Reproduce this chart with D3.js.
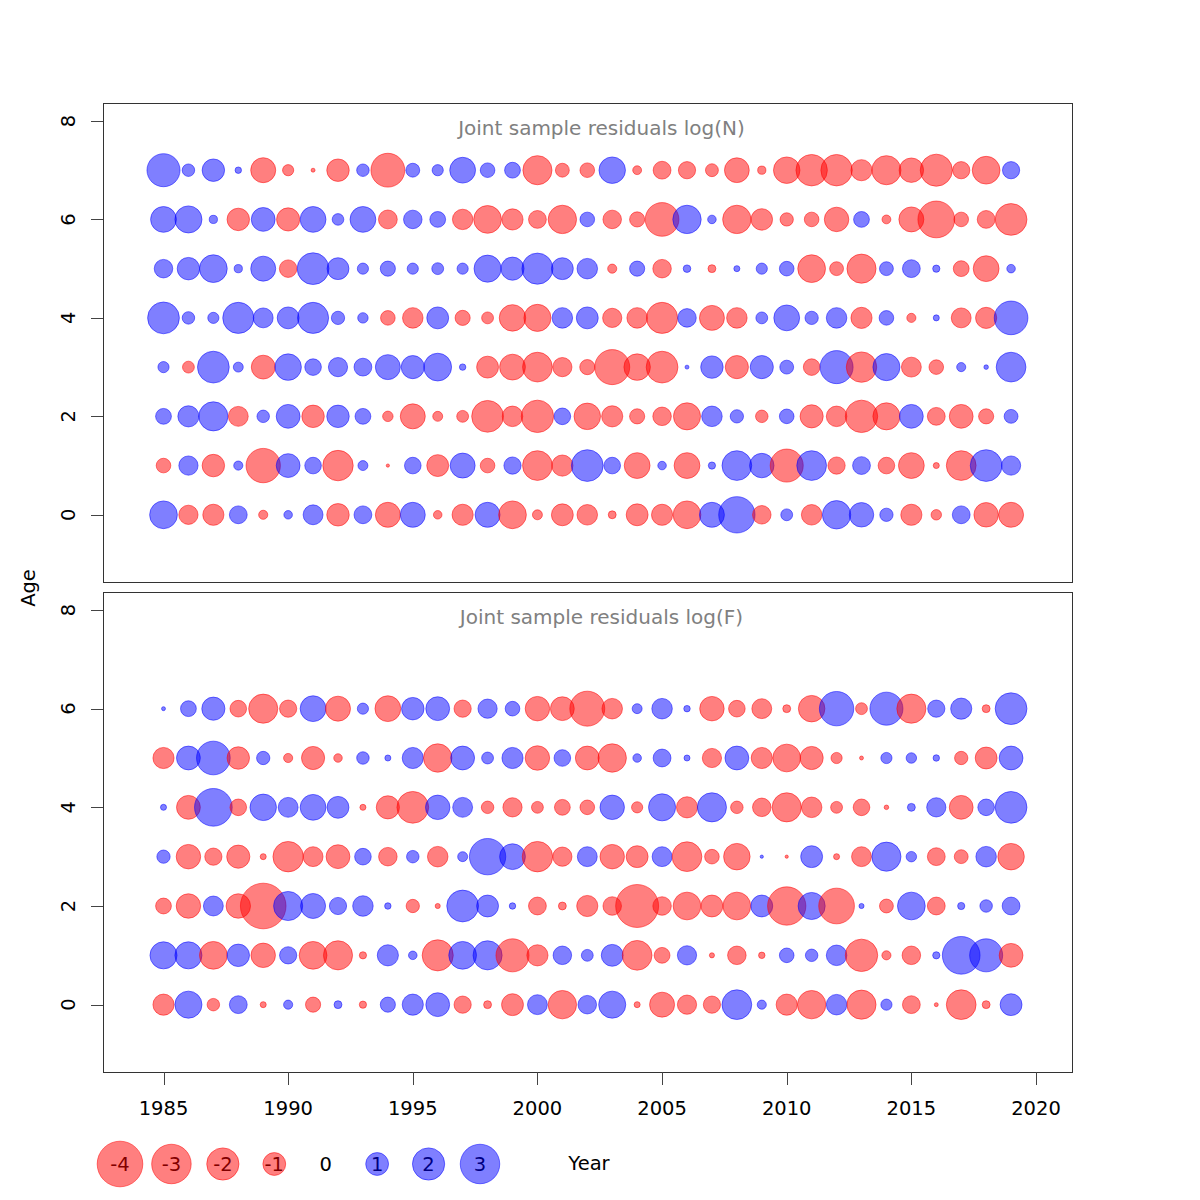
<!DOCTYPE html>
<html>
<head>
<meta charset="utf-8">
<script src="https://cdn.jsdelivr.net/npm/d3@7"></script>
<style>
  body { margin: 0; background: #fff; }
  text { font-family: "DejaVu Sans", sans-serif; }
</style>
</head>
<body>
<div id="chart"></div>
<script>
// years on the x axis
const years = [1985, 1986, 1987, 1988, 1989, 1990, 1991, 1992, 1993, 1994,
  1995, 1996, 1997, 1998, 1999, 2000, 2001, 2002, 2003, 2004,
  2005, 2006, 2007, 2008, 2009, 2010, 2011, 2012, 2013, 2014,
  2015, 2016, 2017, 2018, 2019];
const xTicks = [1985, 1990, 1995, 2000, 2005, 2010, 2015, 2020];
const yTicks = [0, 2, 4, 6, 8];
const legendValues = [-4, -3, -2, -1, 0, 1, 2, 3];

// residuals log(N), one array per age (1985..2019)
const nAge0 = [1.48, -0.71, -0.86, 0.61, -0.16, 0.14, 0.76, -0.97, 0.61, -1.2,
  1.2, -0.14, -0.86, 1.2, -1.48, -0.19, -0.92, -0.81, -0.12, -0.92,
  -0.86, -1.48, 1.2, 2.54, -0.66, 0.27, -0.81, 1.55, 1.15, 0.34,
  -0.86, -0.21, 0.61, -1.15, -1.2];
const nAge1 = [-0.41, 0.71, -0.97, 0.16, -2.27, 1.09, 0.53, -1.78, 0.19, -0.02,
  0.53, -0.92, 1.2, -0.41, 0.57, -1.7, -0.86, 1.94, 0.53, -1.28,
  0.14, -1.28, 0.1, 1.7, 1.15, -2.1, 1.7, -0.57, 0.61, -0.53,
  -1.28, -0.07, -1.7, 1.94, 0.71];
const nAge2 = [0.48, 0.86, 1.63, -0.76, 0.3, 1.09, -0.97, 0.97, 0.48, -0.21,
  -1.2, -0.19, -0.27, -1.94, -0.81, -2.02, 0.53, -1.35, -0.86, -0.44,
  -0.66, -1.41, 0.81, 0.34, -0.3, 0.41, -1.03, -0.81, -2.02, -1.41,
  1.09, -0.61, -1.09, -0.44, 0.37];
const nAge3 = [0.24, -0.27, 1.94, 0.19, -1.09, 1.35, 0.53, 0.71, 0.61, 1.2,
  1.03, 1.48, 0.08, -0.92, -1.28, -1.7, -0.71, -0.44, -2.36, -1.35,
  -1.94, 0.03, 0.97, -1.03, 1.03, 0.37, -0.53, 2.1, -1.78, 1.41,
  -0.76, -0.41, 0.16, 0.04, 1.7];
const nAge4 = [1.94, 0.3, 0.24, 1.86, 0.76, 0.92, 1.86, 0.34, 0.21, -0.41,
  -0.81, 0.92, -0.44, -0.27, -1.35, -1.41, 0.81, 0.92, -0.71, -0.81,
  -1.86, 0.66, -1.2, -0.81, 0.27, 1.28, 0.34, 0.81, -0.86, 0.41,
  -0.16, 0.07, -0.76, -0.86, 2.18];
const nAge5 = [0.66, 0.97, 1.48, 0.13, 1.2, -0.59, 1.94, 0.92, 0.24, 0.44,
  0.24, 0.27, 0.24, 1.41, 1.03, 1.86, 0.92, 0.81, -0.16, 0.44,
  -0.66, 0.11, -0.12, 0.07, 0.24, 0.41, -1.48, -0.37, -1.63, 0.37,
  0.61, 0.1, -0.48, -1.28, 0.14];
const nAge6 = [1.28, 1.41, 0.13, -0.97, 1.09, -1.03, 1.28, 0.26, 1.28, -0.68,
  0.66, 0.48, -0.8, -1.48, -0.86, -0.61, -1.55, 0.41, -0.66, -0.44,
  -2.18, 1.55, 0.14, -1.55, -0.89, -0.34, -0.41, -1.15, 0.48, -0.15,
  -1.2, -2.6, -0.41, -0.61, -1.94];
const nAge7 = [2.1, 0.3, 0.97, 0.08, -1.2, -0.24, -0.03, -0.97, 0.3, -2.2,
  0.37, 0.24, 1.28, 0.41, 0.48, -1.63, -0.37, -0.41, 1.35, -0.15,
  -0.61, -0.57, -0.32, -1.18, -0.13, -1.35, -1.9, -1.9, -0.86, -1.63,
  -1.15, -1.98, -0.57, -1.48, 0.57];

// residuals log(F), one array per age (1985..2019)
const fAge0 = [-0.86, 1.41, -0.3, 0.61, -0.07, 0.16, -0.44, 0.12, -0.1, 0.44,
  0.86, 1.09, -0.57, -0.12, -0.92, 0.76, -1.55, 0.66, 1.41, -0.07,
  -1.2, -0.71, -0.57, 1.7, 0.16, -0.86, -1.55, 0.81, -1.63, 0.24,
  -0.61, -0.03, -1.7, -0.12, 0.92];
const fAge1 = [1.41, 1.41, -1.48, 0.97, -1.15, 0.57, -1.48, -1.63, -0.1, 0.86,
  0.14, -1.86, 1.48, 1.63, -2.1, -0.86, 0.66, 0.27, 0.92, -1.7,
  -0.48, 0.71, -0.05, -0.66, -0.08, 0.41, 0.3, 0.81, -2.02, -0.16,
  -0.66, 0.1, 2.73, 2.1, -1.09];
const fAge2 = [-0.48, -1.15, 0.76, -1.15, -4.0, 1.63, 1.2, 0.57, 0.81, 0.08,
  -0.34, -0.05, 1.94, 0.92, 0.08, -0.61, -0.12, -0.86, -0.66, -3.55,
  -0.66, -1.48, -0.92, -1.48, 0.92, -2.82, 1.41, -2.45, 0.05, -0.37,
  1.48, -0.61, 0.1, 0.3, 0.61];
const fAge3 = [0.34, -1.15, -0.57, -1.03, -0.07, -1.78, -0.76, -1.09, 0.53, -0.66,
  0.3, -0.81, 0.19, 2.54, 1.28, -1.78, -0.71, 0.76, -1.15, -0.92,
  0.76, -1.7, -0.41, -1.35, 0.02, -0.02, 0.92, -0.07, -0.76, 1.63,
  0.21, -0.61, -0.37, 0.81, -1.35];
const fAge4 = [0.07, -1.09, 2.73, -0.53, 1.35, 0.76, 1.28, 0.92, -0.07, -1.03,
  -1.94, 1.15, 0.76, -0.3, -0.71, -0.27, -0.48, -0.41, 1.15, -0.24,
  1.41, -0.86, 1.63, -0.3, -0.66, -1.63, -0.81, -0.27, -0.53, -0.04,
  0.12, 0.71, -1.09, 0.53, 1.94];
const fAge5 = [-0.86, 1.09, 2.18, -0.97, 0.34, -0.16, -1.03, -0.14, 0.3, 0.07,
  0.86, -1.55, 1.09, 0.27, 0.86, -1.15, 0.53, -1.09, -1.55, 0.14,
  0.61, 0.07, -0.71, 1.09, -0.86, -1.48, -1.03, -0.24, -0.03, 0.24,
  0.21, 0.08, -0.34, -0.92, 1.09];
const fAge6 = [0.03, 0.48, 1.03, -0.53, -1.63, -0.57, 1.28, -1.2, 0.24, -1.28,
  0.97, 1.09, -0.57, 0.71, 0.41, -1.15, -1.09, -2.35, -0.81, 0.19,
  0.81, 0.08, -1.15, -0.53, -0.76, -0.12, -1.35, 2.27, -0.27, 2.1,
  -1.63, 0.57, 0.86, -0.12, 1.94];

const nRows = [nAge0, nAge1, nAge2, nAge3, nAge4, nAge5, nAge6, nAge7];
const fRows = [fAge0, fAge1, fAge2, fAge3, fAge4, fAge5, fAge6];

const width = 1200, height = 1200;
const posFill = "rgba(0,0,255,0.5)";
const negFill = "rgba(255,0,0,0.5)";

const svg = d3.select("#chart").append("svg")
  .attr("width", width)
  .attr("height", height);

const x = d3.scaleLinear().domain([1982.573, 2021.444]).range([103, 1072]);
const r = d3.scaleSqrt().domain([0, 4]).range([0, 22.8]);

const panels = [
  { title: "Joint sample residuals log(N)", top: 103, bottom: 582, rows: nRows },
  { title: "Joint sample residuals log(F)", top: 592, bottom: 1072, rows: fRows },
];

panels.forEach((p) => {
  const y = d3.scaleLinear().domain([-1.365, 8.365]).range([p.bottom, p.top]);
  const g = svg.append("g");

  // flatten rows into points
  const pts = [];
  p.rows.forEach((row, age) => {
    row.forEach((v, i) => pts.push({ year: years[i], age: age, v: v }));
  });

  g.selectAll("circle")
    .data(pts)
    .join("circle")
    .attr("cx", (d) => x(d.year))
    .attr("cy", (d) => y(d.age))
    .attr("r", (d) => r(Math.abs(d.v)))
    .attr("fill", (d) => (d.v < 0 ? negFill : posFill))
    .attr("stroke", (d) => (d.v < 0 ? negFill : posFill))
    .attr("stroke-width", 1);

  // frame
  g.append("rect")
    .attr("x", x.range()[0] + 0.5)
    .attr("y", p.top + 0.5)
    .attr("width", x.range()[1] - x.range()[0])
    .attr("height", p.bottom - p.top)
    .attr("fill", "none")
    .attr("stroke", "#333");

  // title (sits a little right of the panel centre, as in the original)
  g.append("text")
    .attr("x", 601.5)
    .attr("y", p.top + 25)
    .attr("text-anchor", "middle")
    .attr("dominant-baseline", "central")
    .attr("fill", "#808080")
    .style("font-size", "20px")
    .text(p.title);

  // y axis
  const ya = g.append("g");
  ya.selectAll("line")
    .data(yTicks)
    .join("line")
    .attr("x1", 91).attr("x2", 103)
    .attr("y1", (d) => Math.round(y(d)) + 0.5)
    .attr("y2", (d) => Math.round(y(d)) + 0.5)
    .attr("stroke", "#444");
  ya.selectAll("text")
    .data(yTicks)
    .join("text")
    .attr("transform", (d) => `translate(68,${y(d)}) rotate(-90)`)
    .attr("text-anchor", "middle")
    .attr("dominant-baseline", "central")
    .style("font-size", "19.5px")
    .text((d) => d);
});

// x axis below the lower panel
const xa = svg.append("g");
xa.selectAll("line")
  .data(xTicks)
  .join("line")
  .attr("x1", (d) => Math.round(x(d)) + 0.5)
  .attr("x2", (d) => Math.round(x(d)) + 0.5)
  .attr("y1", 1072).attr("y2", 1085)
  .attr("stroke", "#444");
xa.selectAll("text")
  .data(xTicks)
  .join("text")
  .attr("x", (d) => x(d))
  .attr("y", 1108)
  .attr("text-anchor", "middle")
  .attr("dominant-baseline", "central")
  .style("font-size", "19.5px")
  .text((d) => d);

// axis titles
svg.append("text")
  .attr("transform", "translate(28,588) rotate(-90)")
  .attr("text-anchor", "middle")
  .attr("dominant-baseline", "central")
  .style("font-size", "19.5px")
  .text("Age");

svg.append("text")
  .attr("x", 589)
  .attr("y", 1163)
  .attr("text-anchor", "middle")
  .attr("dominant-baseline", "central")
  .style("font-size", "19.5px")
  .text("Year");

// size legend: labels first, bubbles over them
const lx = d3.scalePoint().domain(legendValues).range([120, 480]);
const lg = svg.append("g");
lg.selectAll("text")
  .data(legendValues)
  .join("text")
  .attr("x", (d) => lx(d))
  .attr("y", 1164)
  .attr("text-anchor", "middle")
  .attr("dominant-baseline", "central")
  .style("font-size", "19.5px")
  .text((d) => d);
lg.selectAll("circle")
  .data(legendValues.filter((d) => d !== 0))
  .join("circle")
  .attr("cx", (d) => lx(d))
  .attr("cy", 1164)
  .attr("r", (d) => r(Math.abs(d)))
  .attr("fill", (d) => (d < 0 ? negFill : posFill))
  .attr("stroke", (d) => (d < 0 ? negFill : posFill));
</script>
</body>
</html>
